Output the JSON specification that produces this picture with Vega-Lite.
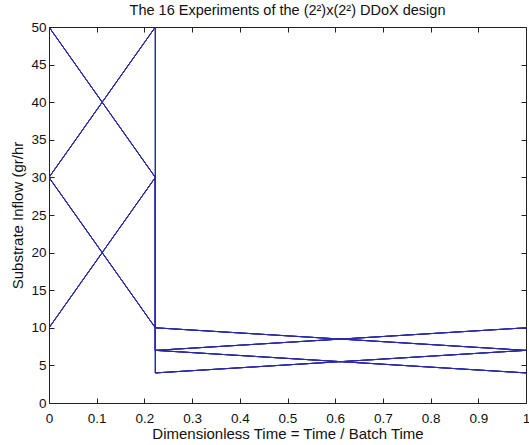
{
  "$schema": "https://vega.github.io/schema/vega-lite/v6.json",
  "width": 477,
  "height": 376,
  "autosize": {"type": "none"},
  "padding": {"left": 49, "top": 27, "right": 3, "bottom": 42},
  "background": "white",
  "title": {
    "text": "The 16 Experiments of the (2²)x(2²) DDoX design",
    "font": "Liberation Sans",
    "fontSize": 14.5,
    "fontWeight": "normal",
    "color": "#111",
    "offset": 2
  },
  "config": {
    "view": {"stroke": null},
    "axis": {
      "grid": false,
      "domainColor": "#222",
      "tickColor": "#222",
      "labelFont": "Liberation Sans",
      "labelFontSize": 13.5,
      "labelColor": "#111",
      "titleFont": "Liberation Sans",
      "titleFontSize": 15,
      "titleFontWeight": "normal",
      "titleColor": "#111"
    }
  },
  "data": {
    "values": [
      {"exp": 1, "step": 1, "t": 0, "u": 10}, {"exp": 1, "step": 2, "t": 0.223, "u": 30}, {"exp": 1, "step": 3, "t": 0.223, "u": 10}, {"exp": 1, "step": 4, "t": 1, "u": 7},
      {"exp": 2, "step": 1, "t": 0, "u": 10}, {"exp": 2, "step": 2, "t": 0.223, "u": 30}, {"exp": 2, "step": 3, "t": 0.223, "u": 7}, {"exp": 2, "step": 4, "t": 1, "u": 10},
      {"exp": 3, "step": 1, "t": 0, "u": 10}, {"exp": 3, "step": 2, "t": 0.223, "u": 30}, {"exp": 3, "step": 3, "t": 0.223, "u": 7}, {"exp": 3, "step": 4, "t": 1, "u": 4},
      {"exp": 4, "step": 1, "t": 0, "u": 10}, {"exp": 4, "step": 2, "t": 0.223, "u": 30}, {"exp": 4, "step": 3, "t": 0.223, "u": 4}, {"exp": 4, "step": 4, "t": 1, "u": 7},
      {"exp": 5, "step": 1, "t": 0, "u": 30}, {"exp": 5, "step": 2, "t": 0.223, "u": 10}, {"exp": 5, "step": 3, "t": 0.223, "u": 10}, {"exp": 5, "step": 4, "t": 1, "u": 7},
      {"exp": 6, "step": 1, "t": 0, "u": 30}, {"exp": 6, "step": 2, "t": 0.223, "u": 10}, {"exp": 6, "step": 3, "t": 0.223, "u": 7}, {"exp": 6, "step": 4, "t": 1, "u": 10},
      {"exp": 7, "step": 1, "t": 0, "u": 30}, {"exp": 7, "step": 2, "t": 0.223, "u": 10}, {"exp": 7, "step": 3, "t": 0.223, "u": 7}, {"exp": 7, "step": 4, "t": 1, "u": 4},
      {"exp": 8, "step": 1, "t": 0, "u": 30}, {"exp": 8, "step": 2, "t": 0.223, "u": 10}, {"exp": 8, "step": 3, "t": 0.223, "u": 4}, {"exp": 8, "step": 4, "t": 1, "u": 7},
      {"exp": 9, "step": 1, "t": 0, "u": 30}, {"exp": 9, "step": 2, "t": 0.223, "u": 50}, {"exp": 9, "step": 3, "t": 0.223, "u": 10}, {"exp": 9, "step": 4, "t": 1, "u": 7},
      {"exp": 10, "step": 1, "t": 0, "u": 30}, {"exp": 10, "step": 2, "t": 0.223, "u": 50}, {"exp": 10, "step": 3, "t": 0.223, "u": 7}, {"exp": 10, "step": 4, "t": 1, "u": 10},
      {"exp": 11, "step": 1, "t": 0, "u": 30}, {"exp": 11, "step": 2, "t": 0.223, "u": 50}, {"exp": 11, "step": 3, "t": 0.223, "u": 7}, {"exp": 11, "step": 4, "t": 1, "u": 4},
      {"exp": 12, "step": 1, "t": 0, "u": 30}, {"exp": 12, "step": 2, "t": 0.223, "u": 50}, {"exp": 12, "step": 3, "t": 0.223, "u": 4}, {"exp": 12, "step": 4, "t": 1, "u": 7},
      {"exp": 13, "step": 1, "t": 0, "u": 50}, {"exp": 13, "step": 2, "t": 0.223, "u": 30}, {"exp": 13, "step": 3, "t": 0.223, "u": 10}, {"exp": 13, "step": 4, "t": 1, "u": 7},
      {"exp": 14, "step": 1, "t": 0, "u": 50}, {"exp": 14, "step": 2, "t": 0.223, "u": 30}, {"exp": 14, "step": 3, "t": 0.223, "u": 7}, {"exp": 14, "step": 4, "t": 1, "u": 10},
      {"exp": 15, "step": 1, "t": 0, "u": 50}, {"exp": 15, "step": 2, "t": 0.223, "u": 30}, {"exp": 15, "step": 3, "t": 0.223, "u": 7}, {"exp": 15, "step": 4, "t": 1, "u": 4},
      {"exp": 16, "step": 1, "t": 0, "u": 50}, {"exp": 16, "step": 2, "t": 0.223, "u": 30}, {"exp": 16, "step": 3, "t": 0.223, "u": 4}, {"exp": 16, "step": 4, "t": 1, "u": 7}
    ]
  },
  "layer": [
    {
      "mark": {"type": "line", "color": "#2a2aa8", "strokeWidth": 1, "clip": true},
      "encoding": {
        "x": {
          "field": "t",
          "type": "quantitative",
          "scale": {"domain": [0, 1], "nice": false, "zero": false},
          "axis": {
            "title": "Dimensionless Time = Time / Batch Time",
            "values": [0, 0.1, 0.2, 0.3, 0.4, 0.5, 0.6, 0.7, 0.8, 0.9, 1],
            "format": "~g",
            "tickSize": -5,
            "labelPadding": 13,
            "titlePadding": 2,
            "labelFlush": false
          }
        },
        "y": {
          "field": "u",
          "type": "quantitative",
          "scale": {"domain": [0, 50], "nice": false},
          "axis": {
            "title": "Substrate Inflow (gr/hr",
            "values": [0, 5, 10, 15, 20, 25, 30, 35, 40, 45, 50],
            "format": "d",
            "tickSize": -5,
            "labelPadding": 8,
            "titlePadding": 5,
            "labelFlush": false
          }
        },
        "detail": {"field": "exp", "type": "nominal"},
        "order": {"field": "step", "type": "quantitative"}
      }
    },
    {
      "mark": {"type": "line", "opacity": 0, "clip": true},
      "encoding": {
        "x": {
          "field": "t",
          "type": "quantitative",
          "axis": {
            "orient": "top",
            "title": null,
            "labels": false,
            "values": [0, 0.1, 0.2, 0.3, 0.4, 0.5, 0.6, 0.7, 0.8, 0.9, 1],
            "tickSize": -5
          }
        },
        "y": {
          "field": "u",
          "type": "quantitative",
          "axis": {
            "orient": "right",
            "title": null,
            "labels": false,
            "values": [0, 5, 10, 15, 20, 25, 30, 35, 40, 45, 50],
            "tickSize": -5
          }
        },
        "detail": {"field": "exp", "type": "nominal"},
        "order": {"field": "step", "type": "quantitative"}
      }
    }
  ],
  "resolve": {"axis": {"x": "independent", "y": "independent"}}
}
